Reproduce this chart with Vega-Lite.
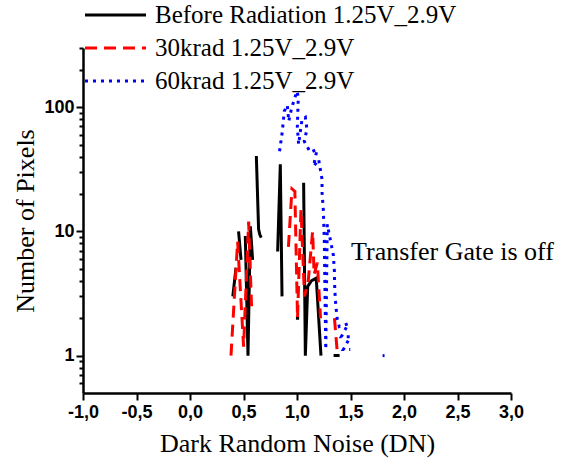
{
  "$schema": "https://vega.github.io/schema/vega-lite/v6.json",
  "width": 428,
  "height": 345,
  "autosize": {"type": "none"},
  "padding": {"left": 83, "top": 48, "right": 55, "bottom": 70},
  "background": "white",
  "config": {
    "view": {"stroke": null},
    "axis": {
      "domainColor": "black",
      "domainWidth": 2.5,
      "tickColor": "black",
      "tickWidth": 2,
      "grid": false,
      "labelFont": "Liberation Sans",
      "labelFontWeight": "bold",
      "labelFontSize": 18,
      "labelColor": "black",
      "titleFont": "Liberation Serif",
      "titleFontWeight": "normal",
      "titleFontSize": 26,
      "titleColor": "black"
    }
  },
  "layer": [
    {
      "data": {
        "values": [
          {"s": "Before Radiation 1.25V_2.9V", "g": "b1", "o": 1, "x": 0.40, "y": 3.0},
          {"s": "Before Radiation 1.25V_2.9V", "g": "b1", "o": 2, "x": 0.43, "y": 5.1},
          {"s": "Before Radiation 1.25V_2.9V", "g": "b2", "o": 3, "x": 0.454, "y": 10.0},
          {"s": "Before Radiation 1.25V_2.9V", "g": "b2", "o": 4, "x": 0.477, "y": 5.9},
          {"s": "Before Radiation 1.25V_2.9V", "g": "b3", "o": 5, "x": 0.517, "y": 9.2},
          {"s": "Before Radiation 1.25V_2.9V", "g": "b3", "o": 6, "x": 0.542, "y": 1.0},
          {"s": "Before Radiation 1.25V_2.9V", "g": "b3", "o": 7, "x": 0.564, "y": 11.0},
          {"s": "Before Radiation 1.25V_2.9V", "g": "b3", "o": 8, "x": 0.585, "y": 5.9},
          {"s": "Before Radiation 1.25V_2.9V", "g": "b4", "o": 9, "x": 0.620, "y": 40.5},
          {"s": "Before Radiation 1.25V_2.9V", "g": "b4", "o": 10, "x": 0.641, "y": 10.4},
          {"s": "Before Radiation 1.25V_2.9V", "g": "b4", "o": 11, "x": 0.653, "y": 9.4},
          {"s": "Before Radiation 1.25V_2.9V", "g": "b4", "o": 12, "x": 0.666, "y": 8.9},
          {"s": "Before Radiation 1.25V_2.9V", "g": "b5", "o": 13, "x": 0.819, "y": 6.9},
          {"s": "Before Radiation 1.25V_2.9V", "g": "b5", "o": 14, "x": 0.844, "y": 34.7},
          {"s": "Before Radiation 1.25V_2.9V", "g": "b5", "o": 15, "x": 0.860, "y": 3.0},
          {"s": "Before Radiation 1.25V_2.9V", "g": "b6", "o": 16, "x": 0.99, "y": 2.0},
          {"s": "Before Radiation 1.25V_2.9V", "g": "b6", "o": 17, "x": 1.02, "y": 2.0},
          {"s": "Before Radiation 1.25V_2.9V", "g": "b7", "o": 18, "x": 1.062, "y": 24.7},
          {"s": "Before Radiation 1.25V_2.9V", "g": "b7", "o": 19, "x": 1.078, "y": 1.0},
          {"s": "Before Radiation 1.25V_2.9V", "g": "b7", "o": 20, "x": 1.10, "y": 3.6},
          {"s": "Before Radiation 1.25V_2.9V", "g": "b7", "o": 21, "x": 1.134, "y": 4.0},
          {"s": "Before Radiation 1.25V_2.9V", "g": "b7", "o": 22, "x": 1.18, "y": 4.2},
          {"s": "Before Radiation 1.25V_2.9V", "g": "b7", "o": 23, "x": 1.224, "y": 1.0},
          {"s": "Before Radiation 1.25V_2.9V", "g": "b8", "o": 24, "x": 1.342, "y": 1.0},
          {"s": "Before Radiation 1.25V_2.9V", "g": "b8", "o": 25, "x": 1.398, "y": 1.0},

          {"s": "30krad 1.25V_2.9V", "g": "r1", "o": 1, "x": 0.383, "y": 1.0},
          {"s": "30krad 1.25V_2.9V", "g": "r1", "o": 2, "x": 0.445, "y": 8.3},
          {"s": "30krad 1.25V_2.9V", "g": "r1", "o": 3, "x": 0.501, "y": 1.18},
          {"s": "30krad 1.25V_2.9V", "g": "r1", "o": 4, "x": 0.548, "y": 12.0},
          {"s": "30krad 1.25V_2.9V", "g": "r1", "o": 5, "x": 0.575, "y": 2.5},
          {"s": "30krad 1.25V_2.9V", "g": "r2", "o": 6, "x": 0.92, "y": 7.5},
          {"s": "30krad 1.25V_2.9V", "g": "r2", "o": 7, "x": 0.953, "y": 22.0},
          {"s": "30krad 1.25V_2.9V", "g": "r2", "o": 8, "x": 0.98, "y": 21.0},
          {"s": "30krad 1.25V_2.9V", "g": "r2", "o": 9, "x": 1.005, "y": 2.0},
          {"s": "30krad 1.25V_2.9V", "g": "r2", "o": 10, "x": 1.037, "y": 15.0},
          {"s": "30krad 1.25V_2.9V", "g": "r2", "o": 11, "x": 1.07, "y": 3.0},
          {"s": "30krad 1.25V_2.9V", "g": "r2", "o": 12, "x": 1.105, "y": 4.0},
          {"s": "30krad 1.25V_2.9V", "g": "r2", "o": 13, "x": 1.146, "y": 10.0},
          {"s": "30krad 1.25V_2.9V", "g": "r2", "o": 14, "x": 1.16, "y": 4.5},
          {"s": "30krad 1.25V_2.9V", "g": "r2", "o": 15, "x": 1.19, "y": 5.6},
          {"s": "30krad 1.25V_2.9V", "g": "r2", "o": 16, "x": 1.22, "y": 2.0},
          {"s": "30krad 1.25V_2.9V", "g": "r3", "o": 17, "x": 1.35, "y": 2.0},
          {"s": "30krad 1.25V_2.9V", "g": "r3", "o": 18, "x": 1.375, "y": 1.1},

          {"s": "60krad 1.25V_2.9V", "g": "u1", "o": 1, "x": 0.837, "y": 44.2},
          {"s": "60krad 1.25V_2.9V", "g": "u1", "o": 2, "x": 0.863, "y": 64},
          {"s": "60krad 1.25V_2.9V", "g": "u1", "o": 3, "x": 0.881, "y": 92.9},
          {"s": "60krad 1.25V_2.9V", "g": "u1", "o": 4, "x": 0.909, "y": 103.8},
          {"s": "60krad 1.25V_2.9V", "g": "u1", "o": 5, "x": 0.923, "y": 77.1},
          {"s": "60krad 1.25V_2.9V", "g": "u1", "o": 6, "x": 0.947, "y": 96.3},
          {"s": "60krad 1.25V_2.9V", "g": "u1", "o": 7, "x": 0.975, "y": 116},
          {"s": "60krad 1.25V_2.9V", "g": "u1", "o": 8, "x": 1.0, "y": 134.6},
          {"s": "60krad 1.25V_2.9V", "g": "u1", "o": 9, "x": 1.012, "y": 120.4},
          {"s": "60krad 1.25V_2.9V", "g": "u1", "o": 10, "x": 1.003, "y": 69},
          {"s": "60krad 1.25V_2.9V", "g": "u1", "o": 11, "x": 1.015, "y": 50.3},
          {"s": "60krad 1.25V_2.9V", "g": "u1", "o": 12, "x": 1.047, "y": 80},
          {"s": "60krad 1.25V_2.9V", "g": "u1", "o": 13, "x": 1.078, "y": 83},
          {"s": "60krad 1.25V_2.9V", "g": "u1", "o": 14, "x": 1.093, "y": 66.5},
          {"s": "60krad 1.25V_2.9V", "g": "u1", "o": 15, "x": 1.068, "y": 53.2},
          {"s": "60krad 1.25V_2.9V", "g": "u1", "o": 16, "x": 1.124, "y": 43.4},
          {"s": "60krad 1.25V_2.9V", "g": "u1", "o": 17, "x": 1.187, "y": 45.8},
          {"s": "60krad 1.25V_2.9V", "g": "u1", "o": 18, "x": 1.155, "y": 33.4},
          {"s": "60krad 1.25V_2.9V", "g": "u1", "o": 19, "x": 1.202, "y": 38.1},
          {"s": "60krad 1.25V_2.9V", "g": "u1", "o": 20, "x": 1.234, "y": 26.3},
          {"s": "60krad 1.25V_2.9V", "g": "u1", "o": 21, "x": 1.234, "y": 20.6},
          {"s": "60krad 1.25V_2.9V", "g": "u1", "o": 22, "x": 1.246, "y": 15.0},
          {"s": "60krad 1.25V_2.9V", "g": "u1", "o": 23, "x": 1.255, "y": 8.6},
          {"s": "60krad 1.25V_2.9V", "g": "u1", "o": 24, "x": 1.260, "y": 4.1},
          {"s": "60krad 1.25V_2.9V", "g": "u1", "o": 25, "x": 1.265, "y": 1.95},
          {"s": "60krad 1.25V_2.9V", "g": "u1", "o": 26, "x": 1.269, "y": 1.12},
          {"s": "60krad 1.25V_2.9V", "g": "u1", "o": 27, "x": 1.283, "y": 11.4},
          {"s": "60krad 1.25V_2.9V", "g": "u1", "o": 28, "x": 1.311, "y": 8.6},
          {"s": "60krad 1.25V_2.9V", "g": "u1", "o": 29, "x": 1.339, "y": 6.5},
          {"s": "60krad 1.25V_2.9V", "g": "u1", "o": 30, "x": 1.349, "y": 4.9},
          {"s": "60krad 1.25V_2.9V", "g": "u1", "o": 31, "x": 1.353, "y": 3.4},
          {"s": "60krad 1.25V_2.9V", "g": "u1", "o": 32, "x": 1.363, "y": 2.5},
          {"s": "60krad 1.25V_2.9V", "g": "u1", "o": 33, "x": 1.377, "y": 1.95},
          {"s": "60krad 1.25V_2.9V", "g": "u1", "o": 34, "x": 1.395, "y": 1.71},
          {"s": "60krad 1.25V_2.9V", "g": "u1", "o": 35, "x": 1.480, "y": 1.81},
          {"s": "60krad 1.25V_2.9V", "g": "u1", "o": 36, "x": 1.414, "y": 1.42},
          {"s": "60krad 1.25V_2.9V", "g": "u1", "o": 37, "x": 1.498, "y": 1.42},
          {"s": "60krad 1.25V_2.9V", "g": "u1", "o": 38, "x": 1.433, "y": 1.12},
          {"s": "60krad 1.25V_2.9V", "g": "u1", "o": 39, "x": 1.498, "y": 1.12},
          {"s": "60krad 1.25V_2.9V", "g": "u2", "o": 40, "x": 1.800, "y": 1.0},
          {"s": "60krad 1.25V_2.9V", "g": "u2", "o": 41, "x": 1.818, "y": 1.0}
        ]
      },
      "mark": {"type": "line", "strokeWidth": 3, "clip": true},
      "encoding": {
        "x": {
          "field": "x",
          "type": "quantitative",
          "scale": {"domain": [-1, 3], "nice": false, "zero": false},
          "axis": {
            "title": "Dark Random Noise (DN)",
            "titleFont": "Liberation Serif",
            "titleFontWeight": "normal",
            "titleFontSize": 26,
            "values": [-1, -0.75, -0.5, -0.25, 0, 0.25, 0.5, 0.75, 1, 1.25, 1.5, 1.75, 2, 2.25, 2.5, 2.75, 3],
            "labelExpr": "abs(datum.value*2 - round(datum.value*2)) < 0.001 ? replace((datum.value < 0 ? '-' : '') + format(abs(datum.value), '.1f'), '.', ',') : ''",
            "tickSize": {"condition": {"test": "abs(datum.value*2 - round(datum.value*2)) < 0.001", "value": 7}, "value": 4},
            "labelPadding": 3,
            "titlePadding": 9,
            "labelFlush": false,
            "labelOverlap": false
          }
        },
        "y": {
          "field": "y",
          "type": "quantitative",
          "scale": {"type": "log", "domain": [0.5, 300], "nice": false},
          "axis": {
            "title": "Number of Pixels",
            "titleFont": "Liberation Serif",
            "titleFontWeight": "normal",
            "titleFontSize": 26,
            "values": [0.6, 0.7, 0.8, 0.9, 1, 2, 3, 4, 5, 6, 7, 8, 9, 10, 20, 30, 40, 50, 60, 70, 80, 90, 100, 200, 300],
            "labelExpr": "datum.value == 1 ? '1' : datum.value == 10 ? '10' : datum.value == 100 ? '100' : ''",
            "tickSize": {"condition": {"test": "datum.value == 1 || datum.value == 10 || datum.value == 100", "value": 7}, "value": 4},
            "labelPadding": 2,
            "titlePadding": 5,
            "labelOverlap": false
          }
        },
        "color": {
          "field": "s",
          "type": "nominal",
          "scale": {
            "domain": ["Before Radiation 1.25V_2.9V", "30krad 1.25V_2.9V", "60krad 1.25V_2.9V"],
            "range": ["#000000", "#ff0000", "#0000ff"]
          },
          "legend": {
            "title": null,
            "orient": "none",
            "legendX": 0.5,
            "legendY": -46,
            "padding": 0,
            "clipHeight": 26,
            "rowPadding": 7,
            "symbolSize": 3721,
            "symbolStrokeWidth": 3,
            "symbolType": "stroke",
            "labelOffset": 7.5,
            "labelFont": "Liberation Serif",
            "labelFontSize": 25,
            "labelColor": "black",
            "labelLimit": 400
          }
        },
        "strokeDash": {
          "field": "s",
          "type": "nominal",
          "scale": {
            "domain": ["Before Radiation 1.25V_2.9V", "30krad 1.25V_2.9V", "60krad 1.25V_2.9V"],
            "range": [[1, 0], [12, 7], [3, 5]]
          },
          "legend": null
        },
        "detail": {"field": "g"},
        "order": {"field": "o", "type": "quantitative"}
      }
    },
    {
      "data": {"values": [{"x": 1.505, "y": 6.8, "t": "Transfer Gate is off"}]},
      "mark": {"type": "text", "align": "left", "baseline": "middle", "font": "Liberation Serif", "fontSize": 26, "color": "black"},
      "encoding": {
        "x": {"field": "x", "type": "quantitative"},
        "y": {"field": "y", "type": "quantitative"},
        "text": {"field": "t"}
      }
    }
  ]
}
